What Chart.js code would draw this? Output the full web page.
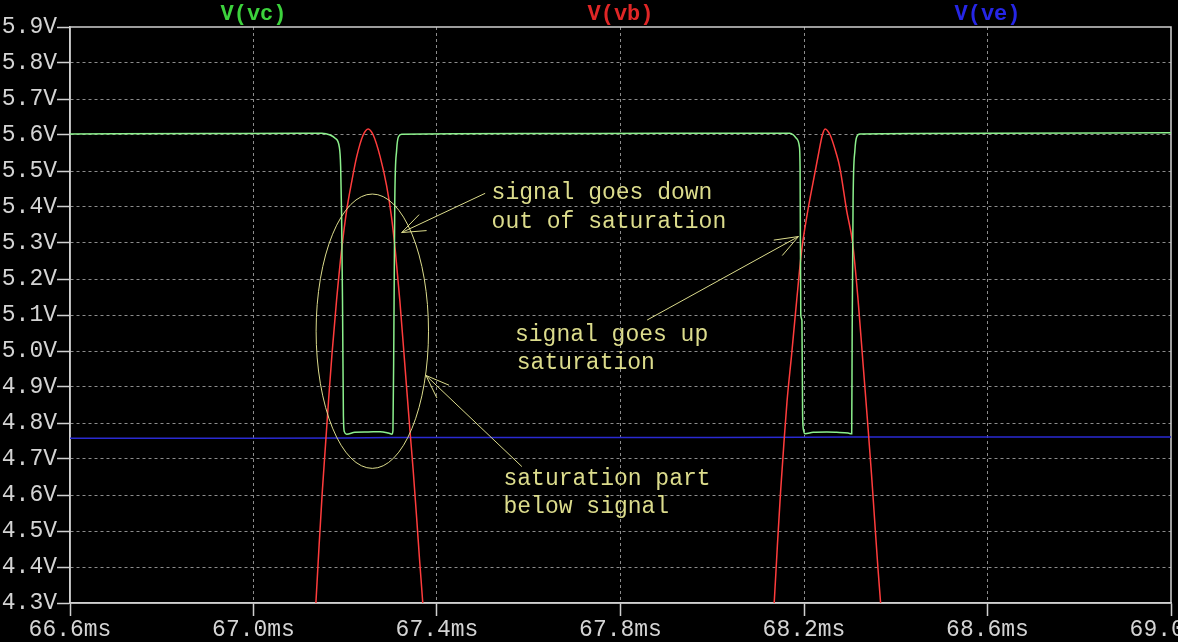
<!DOCTYPE html>
<html>
<head>
<meta charset="utf-8">
<script src="https://cdn.jsdelivr.net/npm/chart.js@4.4.1/dist/chart.umd.min.js"></script>
<style>
  html, body { margin: 0; padding: 0; background: #000; }
  #wrap { width: 1178px; height: 642px; }
</style>
</head>
<body>
<div id="wrap"><canvas id="plot"></canvas></div>
<script>
// V(vc) - collector
const vcTime = [66.60, 66.90, 67.10, 67.149, 67.167, 67.178, 67.187, 67.190, 67.192, 67.194, 67.196, 67.198, 67.203, 67.221, 67.250, 67.276, 67.294, 67.302, 67.304, 67.306, 67.308, 67.312, 67.316, 67.323, 67.60, 67.90, 68.169, 68.177, 68.184, 68.190, 68.1915, 68.193, 68.1955, 68.197, 68.199, 68.202, 68.220, 68.250, 68.271, 68.296, 68.304, 68.305, 68.307, 68.311, 68.315, 68.322, 68.60, 69.00];
const vcVolt = [5.603, 5.604, 5.605, 5.605, 5.600, 5.591, 5.567, 5.512, 5.382, 5.142, 4.818, 4.776, 4.769, 4.774, 4.775, 4.776, 4.772, 4.769, 4.780, 5.050, 5.419, 5.558, 5.595, 5.602, 5.604, 5.605, 5.605, 5.600, 5.590, 5.567, 5.500, 5.100, 5.085, 4.820, 4.780, 4.770, 4.774, 4.775, 4.774, 4.772, 4.770, 5.050, 5.419, 5.558, 5.595, 5.603, 5.605, 5.606];

// V(vb) - base (only the tops of the sine are on screen)
const vbTime = [67.126, 67.136, 67.143, 67.150, 67.157, 67.164, 67.171, 67.181, 67.192, 67.203, 67.214, 67.225, 67.239, 67.250, 67.261, 67.276, 67.290, 67.300, 67.309, 67.319, 67.330, 67.341, 67.348, 67.356, 67.362, 67.369, 67.379,
                67.80,
                68.124, 68.135, 68.142, 68.149, 68.156, 68.163, 68.173, 68.184, 68.195, 68.207, 68.220, 68.232, 68.240, 68.246, 68.257, 68.270, 68.278, 68.293, 68.306, 68.318, 68.329, 68.340, 68.347, 68.354, 68.361, 68.367, 68.377];
const vbVolt = [4.10, 4.30, 4.46, 4.61, 4.74, 4.87, 4.99, 5.14, 5.28, 5.39, 5.47, 5.54, 5.60, 5.617, 5.60, 5.54, 5.46, 5.38, 5.28, 5.14, 4.96, 4.78, 4.67, 4.53, 4.42, 4.30, 4.10,
                null,
                4.10, 4.30, 4.46, 4.61, 4.74, 4.86, 4.99, 5.14, 5.28, 5.38, 5.47, 5.55, 5.60, 5.617, 5.60, 5.55, 5.51, 5.39, 5.30, 5.14, 4.96, 4.78, 4.66, 4.53, 4.40, 4.30, 4.12];

// V(ve) - emitter
const veTime = [66.6, 67.0, 67.2, 67.3, 67.6, 68.0, 68.2, 68.3, 68.6, 69.0];
const veVolt = [4.7575, 4.7578, 4.758, 4.7595, 4.760, 4.760, 4.7605, 4.761, 4.761, 4.761];

// annotations, in data units (ms, V)
const noteTexts = ['signal goes down', 'out of saturation', 'signal goes up', 'saturation', 'saturation part', 'below signal'];
const noteT = [67.519, 67.519, 67.570, 67.574, 67.545, 67.545];
const noteV = [5.439, 5.359, 5.044, 4.968, 4.644, 4.568];
const arrowTailT = [67.505, 67.858, 67.585];
const arrowTailV = [5.438, 5.086, 4.679];
const arrowTipT = [67.323, 68.188, 67.376];
const arrowTipV = [5.329, 5.318, 4.932];
const ringT = 67.259, ringV = 5.055, ringRT = 0.1225, ringRV = 0.381;

const monoFont = '"Liberation Mono", "DejaVu Sans Mono", monospace';
const labelColor = '#d4d4d4';
const gridColor = '#8c8c8c';
const frameColor = '#d0d0d0';
const noteColor = '#dcdc8c';

function pts(ts, vs) {
    return ts.map((t, i) => ({ x: t, y: vs[i] }));
}

// series names across the top, spread evenly like the scope window
const seriesTitles = {
    id: 'seriesTitles',
    afterDraw(chart) {
        const { ctx, chartArea } = chart;
        const n = chart.data.datasets.length;
        ctx.save();
        ctx.font = 'bold 22px ' + monoFont;
        ctx.textAlign = 'center';
        ctx.textBaseline = 'middle';
        chart.data.datasets.forEach((ds, i) => {
            ctx.fillStyle = ds.titleColor;
            const x = chartArea.left + chartArea.width * (2 * i + 1) / (2 * n);
            ctx.fillText(ds.label, x, chartArea.top / 2 + 1);
        });
        ctx.restore();
    }
};

// closed frame round the plot
const frame = {
    id: 'frame',
    beforeDatasetsDraw(chart) {
        const { ctx, chartArea: a } = chart;
        ctx.save();
        ctx.strokeStyle = frameColor;
        ctx.lineWidth = 1.5;
        ctx.strokeRect(a.left, a.top, a.right - a.left, a.bottom - a.top);
        ctx.restore();
    }
};

// ellipse, arrows and notes
const notes = {
    id: 'notes',
    afterDatasetsDraw(chart) {
        const { ctx } = chart;
        const xs = chart.scales.x, ys = chart.scales.y;
        ctx.save();
        ctx.strokeStyle = noteColor;
        ctx.fillStyle = noteColor;
        ctx.lineWidth = 1;

        const cx = xs.getPixelForValue(ringT), cy = ys.getPixelForValue(ringV);
        const rx = Math.abs(xs.getPixelForValue(ringT + ringRT) - cx);
        const ry = Math.abs(ys.getPixelForValue(ringV + ringRV) - cy);
        ctx.beginPath();
        ctx.ellipse(cx, cy, rx, ry, 0, 0, Math.PI * 2);
        ctx.stroke();

        arrowTailT.forEach((t, i) => {
            const x0 = xs.getPixelForValue(t), y0 = ys.getPixelForValue(arrowTailV[i]);
            const x1 = xs.getPixelForValue(arrowTipT[i]), y1 = ys.getPixelForValue(arrowTipV[i]);
            const ang = Math.atan2(y0 - y1, x0 - x1);
            ctx.beginPath();
            ctx.moveTo(x0, y0);
            ctx.lineTo(x1, y1);
            [-0.36, 0.36].forEach(d => {
                ctx.moveTo(x1, y1);
                ctx.lineTo(x1 + 25 * Math.cos(ang + d), y1 + 25 * Math.sin(ang + d));
            });
            ctx.stroke();
        });

        ctx.font = '23px ' + monoFont;
        ctx.textAlign = 'left';
        ctx.textBaseline = 'middle';
        noteTexts.forEach((s, i) => {
            ctx.fillText(s, xs.getPixelForValue(noteT[i]), ys.getPixelForValue(noteV[i]));
        });
        ctx.restore();
    }
};

const edgeFree = (ctx) => {
    const last = ctx.scale.ticks.length - 1;
    return (ctx.index === 0 || ctx.index === last) ? 'rgba(0,0,0,0)' : gridColor;
};

new Chart(document.getElementById('plot'), {
    type: 'line',
    data: {
        datasets: [
            {
                label: 'V(vc)',
                titleColor: '#3cd23c',
                data: pts(vcTime, vcVolt),
                borderColor: '#8cf08c',
                borderWidth: 1.5,
                pointRadius: 0,
                cubicInterpolationMode: 'monotone'
            },
            {
                label: 'V(vb)',
                titleColor: '#e02626',
                data: pts(vbTime, vbVolt),
                borderColor: '#ff3c3c',
                borderWidth: 1.5,
                pointRadius: 0,
                cubicInterpolationMode: 'monotone'
            },
            {
                label: 'V(ve)',
                titleColor: '#2626e6',
                data: pts(veTime, veVolt),
                borderColor: '#2a2ad2',
                borderWidth: 1.5,
                pointRadius: 0
            }
        ]
    },
    options: {
        responsive: true,
        maintainAspectRatio: false,
        animation: false,
        layout: { padding: { top: 27, right: 7, left: 0, bottom: 0 } },
        scales: {
            x: {
                type: 'linear',
                min: 66.6,
                max: 69.0,
                ticks: {
                    stepSize: 0.4,
                    autoSkip: false,
                    maxRotation: 0,
                    padding: 0,
                    color: labelColor,
                    font: { family: monoFont, size: 23 },
                    callback: v => v.toFixed(1) + 'ms'
                },
                grid: {
                    color: edgeFree,
                    tickColor: frameColor,
                    tickLength: 13,
                    tickWidth: 1.5,
                    tickBorderDash: []
                },
                border: { color: frameColor, width: 1.5, dash: [3, 3] },
                afterFit: s => { s.height = 39; s.paddingRight = 0; s.paddingLeft = 0; }
            },
            y: {
                min: 4.3,
                max: 5.9,
                ticks: {
                    stepSize: 0.1,
                    padding: 0,
                    color: labelColor,
                    font: { family: monoFont, size: 23 },
                    callback: v => v.toFixed(1) + 'V'
                },
                grid: {
                    color: edgeFree,
                    tickColor: frameColor,
                    tickLength: 13,
                    tickWidth: 1.5,
                    tickBorderDash: []
                },
                border: { color: frameColor, width: 1.5, dash: [3, 3] },
                afterFit: s => { s.width = 70; }
            }
        },
        plugins: {
            legend: { display: false },
            tooltip: { enabled: false }
        }
    },
    plugins: [frame, notes, seriesTitles]
});
</script>
</body>
</html>
